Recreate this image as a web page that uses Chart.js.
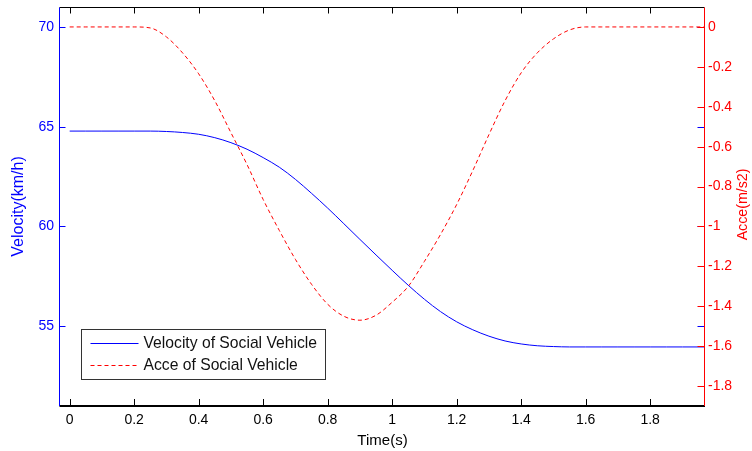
<!DOCTYPE html>
<html>
<head>
<meta charset="utf-8">
<script src="https://cdn.jsdelivr.net/npm/chart.js@4/dist/chart.umd.min.js"></script>
<style>
  html, body { margin: 0; padding: 0; background: #fff; }
  #wrap { width: 752px; height: 451px; }
</style>
</head>
<body>
<div id="wrap"><canvas id="chart1"></canvas></div>
<script>
// time axis (s)
const times = [0, 0.05, 0.1, 0.15, 0.2, 0.25, 0.3, 0.35, 0.4, 0.45, 0.5, 0.55, 0.6, 0.65, 0.7, 0.75, 0.8, 0.85, 0.9, 0.95,
  1.0, 1.05, 1.1, 1.15, 1.2, 1.25, 1.3, 1.35, 1.4, 1.45, 1.5, 1.55, 1.6, 1.65, 1.7, 1.75, 1.8, 1.85, 1.9, 1.97];
// velocity of social vehicle (km/h)
const velocity = [64.78, 64.78, 64.78, 64.78, 64.78, 64.78, 64.76, 64.71, 64.62, 64.45, 64.2, 63.87, 63.45, 62.97, 62.36, 61.66, 60.92, 60.14, 59.35, 58.57,
  57.8, 57.05, 56.35, 55.73, 55.22, 54.82, 54.5, 54.26, 54.11, 54.02, 53.98, 53.96, 53.96, 53.96, 53.96, 53.96, 53.96, 53.96, 53.96, 53.96];
// acceleration of social vehicle (m/s2)
const acce = [0, 0, 0, 0, 0, -0.005, -0.05, -0.13, -0.235, -0.37, -0.53, -0.69, -0.865, -1.02, -1.165, -1.29, -1.39, -1.45, -1.47, -1.445,
  -1.38, -1.3, -1.175, -1.04, -0.89, -0.72, -0.54, -0.37, -0.23, -0.13, -0.06, -0.015, 0, 0, 0, 0, 0, 0, 0, 0];

const xTicks = [0, 0.2, 0.4, 0.6, 0.8, 1, 1.2, 1.4, 1.6, 1.8];
const yTicks = [55, 60, 65, 70];
const y2Ticks = [0, -0.2, -0.4, -0.6, -0.8, -1, -1.2, -1.4, -1.6, -1.8];

const seriesNames = ['Velocity of Social Vehicle', 'Acce of Social Vehicle'];
const xTitle = 'Time(s)';
const yTitle = 'Velocity(km/h)';
const y2Title = 'Acce(m/s2)';

const FONT = "'Liberation Sans', Arial, sans-serif";
const BLUE = '#0000ff';
const RED = '#ff0000';
const TICK = 6;

function fmt(v) { return String(Math.round(v * 10) / 10); }

function noPad(s) { s.paddingTop = 0; s.paddingBottom = 0; s.paddingLeft = 0; s.paddingRight = 0; }

// box, inward ticks, right title and legend (drawn like matlab)
const framePlugin = {
  id: 'frame',
  afterDatasetsDraw(chart) {
    const ctx = chart.ctx;
    const ca = chart.chartArea;
    const sx = chart.scales.x, sy = chart.scales.y, sy2 = chart.scales.y2;
    const L = ca.left - 0.5, R = ca.right - 0.5, T = ca.top + 0.5, B = ca.bottom;
    ctx.save();

    // top / bottom
    ctx.strokeStyle = '#000';
    ctx.lineWidth = 1;
    ctx.beginPath();
    ctx.moveTo(L, T); ctx.lineTo(R, T);
    xTicks.forEach(v => {
      const px = Math.round(sx.getPixelForValue(v)) + 0.5;
      ctx.moveTo(px, T); ctx.lineTo(px, T + TICK);
      ctx.moveTo(px, B); ctx.lineTo(px, B - TICK - 1);
    });
    ctx.stroke();
    ctx.lineWidth = 2;
    ctx.beginPath();
    ctx.moveTo(L, B); ctx.lineTo(R + 0.5, B);
    ctx.stroke();

    // left axis + mirrored ticks on right
    ctx.lineWidth = 1;
    ctx.strokeStyle = BLUE;
    ctx.beginPath();
    ctx.moveTo(L, T); ctx.lineTo(L, B);
    yTicks.forEach(v => {
      const py = Math.round(sy.getPixelForValue(v)) + 0.5;
      ctx.moveTo(L, py); ctx.lineTo(L + TICK, py);
      ctx.moveTo(R, py); ctx.lineTo(R - TICK - 1, py);
    });
    ctx.stroke();

    // right axis
    ctx.strokeStyle = RED;
    ctx.beginPath();
    ctx.moveTo(R, T); ctx.lineTo(R, B);
    y2Ticks.forEach(v => {
      const py = Math.round(sy2.getPixelForValue(v)) + 0.5;
      ctx.moveTo(R, py); ctx.lineTo(R - TICK - 1, py);
    });
    ctx.stroke();

    // right title, reads bottom to top
    ctx.fillStyle = RED;
    ctx.font = '14.2px ' + FONT;
    ctx.textAlign = 'center';
    ctx.textBaseline = 'middle';
    ctx.translate(743.5, (ca.top + ca.bottom) / 2 - 2);
    ctx.rotate(-Math.PI / 2);
    ctx.fillText(y2Title, 0, 0);
    ctx.setTransform(1, 0, 0, 1, 0, 0);

    // legend
    const lx = ca.left + 21.5, ly = ca.bottom - 76.5, lw = 244, lh = 50;
    ctx.fillStyle = '#fff';
    ctx.fillRect(lx, ly, lw, lh);
    ctx.strokeStyle = '#333';
    ctx.lineWidth = 1;
    ctx.strokeRect(lx, ly, lw, lh);
    ctx.font = '15.7px ' + FONT;
    ctx.textAlign = 'left';
    ctx.textBaseline = 'middle';
    chart.data.datasets.forEach((ds, i) => {
      const yy = Math.round(ly + 13.5 + i * 21.7) + 0.5;
      ctx.strokeStyle = ds.borderColor;
      ctx.lineWidth = 1;
      ctx.setLineDash(ds.borderDash || []);
      ctx.beginPath();
      ctx.moveTo(lx + 9, yy); ctx.lineTo(lx + 57, yy);
      ctx.stroke();
      ctx.setLineDash([]);
      ctx.fillStyle = '#111';
      ctx.fillText(ds.label, lx + 62, yy);
    });
    ctx.restore();
  }
};

const ctx1 = document.getElementById('chart1').getContext('2d');
const chart1 = new Chart(ctx1, {
  type: 'line',
  data: {
    datasets: [{
      label: seriesNames[0],
      data: times.map((t, i) => ({ x: t, y: velocity[i] })),
      borderColor: BLUE,
      borderWidth: 1,
      pointRadius: 0,
      cubicInterpolationMode: 'monotone',
      yAxisID: 'y'
    }, {
      label: seriesNames[1],
      data: times.map((t, i) => ({ x: t, y: acce[i] })),
      borderColor: RED,
      borderWidth: 1,
      borderDash: [4, 3],
      pointRadius: 0,
      cubicInterpolationMode: 'monotone',
      yAxisID: 'y2'
    }]
  },
  options: {
    responsive: true,
    maintainAspectRatio: false,
    animation: false,
    layout: { padding: { top: 7, left: 0, right: 0, bottom: 0 } },
    plugins: { legend: { display: false }, tooltip: { enabled: false } },
    scales: {
      x: {
        type: 'linear',
        min: -0.03,
        max: 1.97,
        afterBuildTicks: s => { s.ticks = xTicks.map(v => ({ value: v })); },
        afterFit: s => { s.height = 45; noPad(s); },
        grid: { display: false, drawTicks: false },
        border: { display: false },
        ticks: { color: '#000', padding: 6, maxRotation: 0, autoSkip: false, font: { family: FONT, size: 14 }, callback: fmt },
        title: { display: true, text: xTitle, color: '#000', font: { family: FONT, size: 15 }, padding: { top: 0, bottom: 1 } }
      },
      y: {
        position: 'left',
        min: 51,
        max: 71,
        afterBuildTicks: s => { s.ticks = yTicks.map(v => ({ value: v })); },
        afterFit: s => { s.width = 60; noPad(s); },
        grid: { display: false, drawTicks: false },
        border: { display: false },
        ticks: { color: BLUE, padding: 6, autoSkip: false, font: { family: FONT, size: 14 }, callback: fmt },
        title: { display: true, text: yTitle, color: BLUE, font: { family: FONT, size: 16 }, padding: { top: 9, bottom: 0 } }
      },
      y2: {
        position: 'right',
        min: -1.9,
        max: 0.1,
        afterBuildTicks: s => { s.ticks = y2Ticks.map(v => ({ value: v })); },
        afterFit: s => { s.width = 47; noPad(s); },
        grid: { display: false, drawTicks: false },
        border: { display: false },
        ticks: { color: RED, padding: 3, autoSkip: false, font: { family: FONT, size: 14 }, callback: fmt }
      }
    }
  },
  plugins: [framePlugin]
});
</script>
</body>
</html>
